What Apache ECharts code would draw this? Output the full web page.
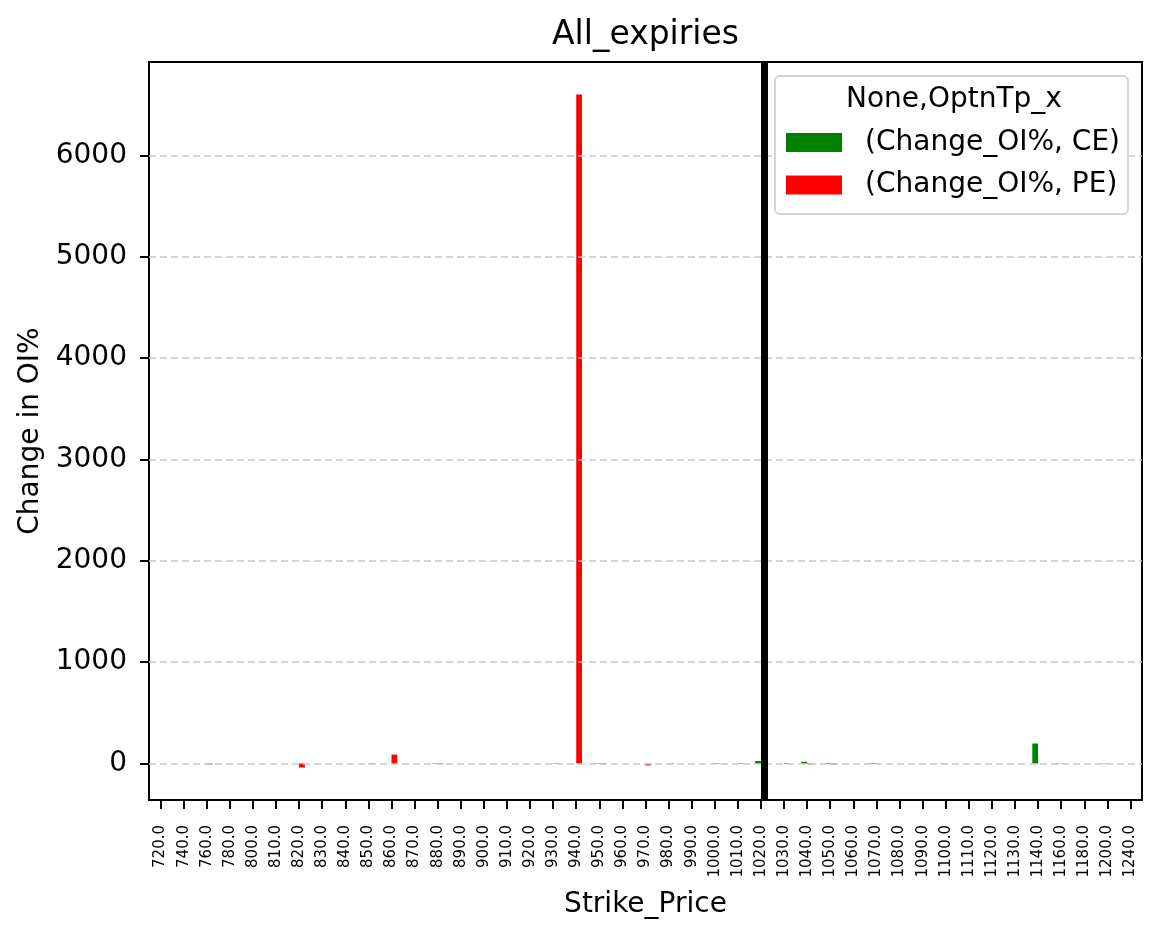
<!DOCTYPE html>
<html lang="en">
<head>
    <meta charset="UTF-8">
    <title>All_expiries</title>
    <script src="https://cdn.jsdelivr.net/npm/echarts@6/dist/echarts.min.js"></script>
    <style>
        html, body { margin: 0; padding: 0; background: #fff; }
        #main { width: 1161px; height: 939px; }
    </style>
</head>
<body>
    <div id="main"></div>
    <script type="text/javascript">
        // strike prices (category labels)
        var strikes = ['720.0', '740.0', '760.0', '780.0', '800.0', '810.0', '820.0', '830.0', '840.0', '850.0',
            '860.0', '870.0', '880.0', '890.0', '900.0', '910.0', '920.0', '930.0', '940.0', '950.0',
            '960.0', '970.0', '980.0', '990.0', '1000.0', '1010.0', '1020.0', '1030.0', '1040.0', '1050.0',
            '1060.0', '1070.0', '1080.0', '1090.0', '1100.0', '1110.0', '1120.0', '1130.0', '1140.0', '1160.0',
            '1180.0', '1200.0', '1240.0'];
        // Change_OI% for CE
        var ceValues = [0, 0, 0, 0, 0, 0, 0, 0, 0, 0,
            0, 0, 3, 0, 0, 0, 0, 0, 0, -3,
            0, 0, 0, 0, 0, 0, 25, 0, 17, 5,
            0, -5, 0, 0, 3, 0, 0, 0, 197, -3,
            0, -3, 0];
        // Change_OI% for PE
        var peValues = [0, 0, -8, 0, 0, 0, -40, 0, 0, -6,
            88, 0, 5, 0, 0, 0, 0, -4, 6600, -5,
            0, -20, 4, 0, 4, -5, -3, 5, -8, -10,
            0, 0, 0, 0, 0, 0, 0, 0, 0, 0,
            0, 0, 0];
        var yTicks = [0, 1000, 2000, 3000, 4000, 5000, 6000];
        var spotStrike = '1020.0';

        var font = 'DejaVu Sans';
        var chart = echarts.init(document.getElementById('main'));

        var option = {
            backgroundColor: '#fff',
            animation: false,
            textStyle: { fontFamily: font },
            title: [{
                text: 'All_expiries',
                left: 552,
                top: 19,
                padding: 0,
                z: 120,
                textStyle: { fontFamily: font, fontSize: 33, fontWeight: 'normal', color: '#000' }
            }, {
                text: 'None,OptnTp_x',
                left: 846,
                top: 86,
                padding: 0,
                z: 120,
                textStyle: { fontFamily: font, fontSize: 28, fontWeight: 'normal', color: '#000' }
            }],
            graphic: [{
                type: 'rect',
                z: 100,
                shape: { x: 775, y: 76, width: 353, height: 138, r: 5 },
                style: { fill: '#fff', stroke: '#d4d4d4', lineWidth: 2 }
            }],
            legend: {
                orient: 'vertical',
                left: 786,
                top: 127.5,
                padding: 0,
                z: 120,
                itemWidth: 56,
                itemHeight: 19,
                itemGap: 12.5,
                icon: 'rect',
                textStyle: { fontFamily: font, fontSize: 28, color: '#000', lineHeight: 30, padding: [0, 0, 0, 18] },
                data: ['(Change_OI%, CE)', '(Change_OI%, PE)']
            },
            grid: {
                left: 149,
                right: 19,
                top: 62,
                bottom: 139,
                show: true,
                borderColor: '#000',
                borderWidth: 2,
                containLabel: false
            },
            xAxis: {
                type: 'category',
                data: strikes,
                boundaryGap: true,
                name: 'Strike_Price',
                nameLocation: 'middle',
                nameGap: 91,
                nameTextStyle: { fontFamily: font, fontSize: 28, color: '#000' },
                axisLine: { show: true, onZero: false, lineStyle: { color: '#000', width: 2 } },
                axisTick: { show: true, alignWithLabel: true, length: 9, lineStyle: { color: '#000', width: 2 } },
                axisLabel: { rotate: 90, interval: 0, fontSize: 15, margin: 25, color: '#000', fontFamily: font },
                splitLine: { show: false }
            },
            yAxis: {
                type: 'value',
                min: -360,
                max: 6920,
                name: 'Change in OI%',
                nameLocation: 'middle',
                nameGap: 94,
                nameRotate: 90,
                nameTextStyle: { fontFamily: font, fontSize: 28, color: '#000' },
                axisLine: { show: true, lineStyle: { color: '#000', width: 2 } },
                axisTick: { show: true, length: 9, customValues: yTicks, lineStyle: { color: '#000', width: 2 } },
                axisLabel: {
                    fontSize: 28, margin: 22, color: '#000', fontFamily: font, customValues: yTicks,
                    formatter: function (v) { return String(v); }
                },
                splitLine: { show: false }
            },
            series: [{
                name: '(Change_OI%, CE)',
                type: 'bar',
                data: ceValues,
                barWidth: '25%',
                barGap: '0%',
                itemStyle: { color: '#008000' },
                markLine: {
                    silent: true,
                    symbol: 'none',
                    label: { show: false },
                    lineStyle: { color: '#c8c8c8', width: 1.5, type: [7, 4] },
                    data: yTicks.map(function (v) { return { yAxis: v }; })
                }
            }, {
                name: '(Change_OI%, PE)',
                type: 'bar',
                data: peValues,
                barWidth: '25%',
                barGap: '0%',
                itemStyle: { color: '#ff0000' },
                markLine: {
                    silent: true,
                    symbol: 'none',
                    label: { show: false },
                    lineStyle: { color: '#000', width: 7, type: 'solid' },
                    data: [{ xAxis: spotStrike }]
                }
            }]
        };
        chart.setOption(option);
    </script>
</body>
</html>
